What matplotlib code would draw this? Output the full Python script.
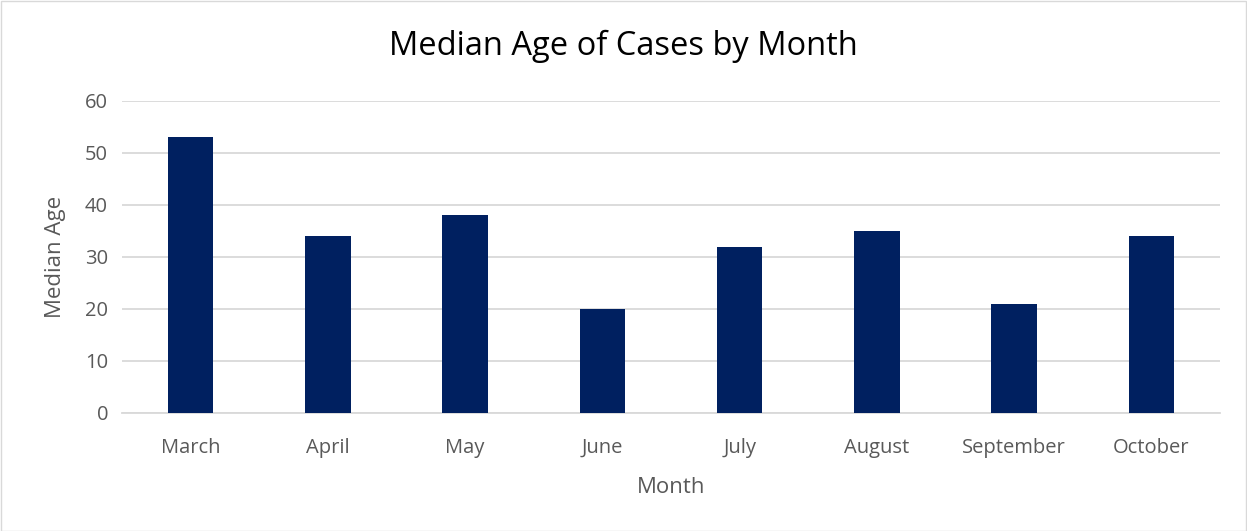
import matplotlib
matplotlib.use("Agg")
import matplotlib.pyplot as plt
from matplotlib.patches import Rectangle

months = ["March", "April", "May", "June", "July", "August", "September", "October"]
median_age = [53, 34, 38, 20, 32, 35, 21, 34]
yticks = [0, 10, 20, 30, 40, 50, 60]

plt.rcParams['font.family'] = ['Open Sans', 'DejaVu Sans']

W, H = 1247, 531
fig = plt.figure(figsize=(W / 100, H / 100), dpi=100)
fig.patches.append(Rectangle((0.5 / W, 0.5 / H), 1 - 1.5 / W, 1 - 1.5 / H, transform=fig.transFigure,
                             fill=False, edgecolor="#d9d9d9", linewidth=1))

left, right = 122 / W, 1220 / W
bottom, top = 1 - 413 / H, 1 - 101 / H
ax = fig.add_axes([left, bottom, right - left, top - bottom])

x = range(len(months))
ax.bar(x, median_age, width=0.33, color="#002060", zorder=3)
ax.set_xlim(-0.5, len(months) - 0.5)
ax.set_ylim(0, 60)
ax.set_yticks(yticks)
ax.set_xticks(list(x))
ax.set_xticklabels(months)
ax.grid(axis="y", color="#d9d9d9", linewidth=1.3, zorder=0)
for s in ["top", "right", "left"]:
    ax.spines[s].set_visible(False)
ax.spines["bottom"].set_color("#d9d9d9")
ax.spines["bottom"].set_linewidth(1.3)
ax.tick_params(axis="both", length=0, labelsize=14.5, labelcolor="#595959", pad=10)
ax.tick_params(axis="x", pad=18)

ax.set_xlabel("Month", fontsize=16, color="#595959", labelpad=14)
ax.set_ylabel("Median Age", fontsize=16, color="#595959", labelpad=14)
fig.text(0.5, 1 - 46 / H, "Median Age of Cases by Month", ha="center", va="center",
         fontsize=23.5, color="#000000")

fig.savefig("out.png", dpi=100)
